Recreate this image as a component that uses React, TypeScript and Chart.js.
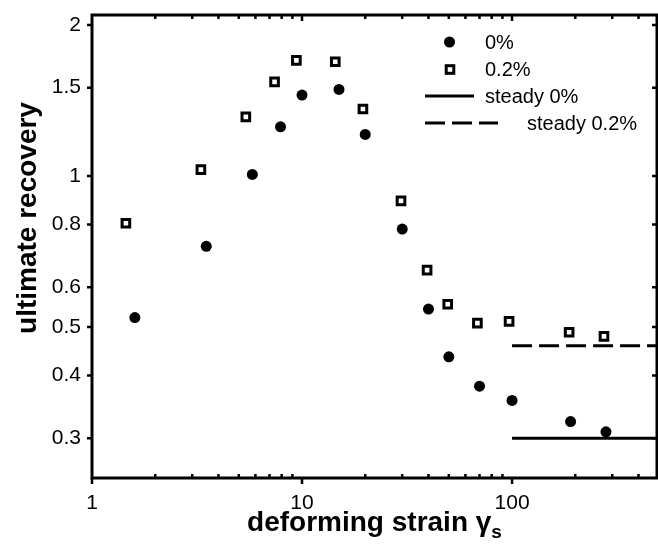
import React, { useEffect, useRef } from 'react';
import { Chart, registerables } from 'chart.js';

Chart.register(...registerables);

// ---- data ----
const strain0 = [1.6, 3.5, 5.8, 7.9, 10, 15, 20, 30, 40, 50, 70, 100, 190, 280];
const recovery0 = [0.522, 0.724, 1.007, 1.253, 1.45, 1.488, 1.21, 0.784, 0.543, 0.436, 0.381, 0.357, 0.324, 0.309];
const strain02 = [1.45, 3.3, 5.4, 7.4, 9.4, 14.4, 19.5, 29.6, 39.4, 49.4, 68.4, 96.8, 187, 274];
const recovery02 = [0.805, 1.03, 1.312, 1.54, 1.7, 1.69, 1.36, 0.892, 0.649, 0.555, 0.509, 0.513, 0.488, 0.479];
const steadyStrain = [100, 490];
const steady0 = [0.3, 0.3];
const steady02 = [0.459, 0.459];

const xMajorTicks = [1, 10, 100];
const xMinorTicks = [2, 3, 4, 5, 6, 7, 8, 9, 20, 30, 40, 50, 60, 70, 80, 90, 200, 300, 400];
const yTicks = [0.3, 0.4, 0.5, 0.6, 0.8, 1, 1.5, 2];
const legendLabels = ['0%', '0.2%', 'steady 0%', 'steady 0.2%'];
const xTitle = 'deforming strain \u03b3';
const xTitleSub = 's';
const yTitle = 'ultimate recovery';

const FONT = '"Liberation Sans", Arial, Helvetica, sans-serif';

const framePlugin = {
  id: 'frameAndExtras',
  afterDraw(chart: any) {
    const ctx = chart.ctx as CanvasRenderingContext2D;
    const { left, right, top, bottom } = chart.chartArea;
    const xs = chart.scales.x;
    const ys = chart.scales.y;
    ctx.save();
    ctx.strokeStyle = '#000';
    ctx.fillStyle = '#000';
    ctx.lineWidth = 3;
    ctx.lineCap = 'butt';
    ctx.beginPath();
    ctx.moveTo(left, top);
    ctx.lineTo(right, top);
    ctx.lineTo(right, bottom);
    ctx.lineTo(left, bottom);
    ctx.closePath();
    ctx.stroke();

    ctx.lineWidth = 2.5;
    ctx.beginPath();
    yTicks.forEach((v) => {
      const py = ys.getPixelForValue(v);
      ctx.moveTo(left - 5, py);
      ctx.lineTo(left, py);
      ctx.moveTo(right - 5, py);
      ctx.lineTo(right, py);
    });
    xMajorTicks.forEach((v) => {
      const px = xs.getPixelForValue(v);
      ctx.moveTo(px, bottom);
      ctx.lineTo(px, bottom + 6);
      if (v > 1) {
        ctx.moveTo(px, top);
        ctx.lineTo(px, top + 6);
      }
    });
    xMinorTicks.forEach((v) => {
      const px = xs.getPixelForValue(v);
      ctx.moveTo(px, bottom);
      ctx.lineTo(px, bottom - 4);
      ctx.moveTo(px, top);
      ctx.lineTo(px, top + 4);
    });
    ctx.stroke();

    // axis titles
    ctx.font = 'bold 28px ' + FONT;
    ctx.textBaseline = 'alphabetic';
    const mainW = ctx.measureText(xTitle).width;
    ctx.font = 'bold 19px ' + FONT;
    const subW = ctx.measureText(xTitleSub).width;
    const cx = (left + right) / 2;
    const startX = cx - (mainW + subW) / 2;
    ctx.font = 'bold 28px ' + FONT;
    ctx.textAlign = 'left';
    ctx.fillText(xTitle, startX, 531);
    ctx.font = 'bold 19px ' + FONT;
    ctx.fillText(xTitleSub, startX + mainW, 538);

    ctx.save();
    ctx.translate(36, 218);
    ctx.rotate(-Math.PI / 2);
    ctx.font = 'bold 28px ' + FONT;
    ctx.textAlign = 'center';
    ctx.fillText(yTitle, 0, 0);
    ctx.restore();

    // legend
    ctx.font = '20px ' + FONT;
    ctx.textAlign = 'left';
    ctx.textBaseline = 'middle';
    ctx.beginPath();
    ctx.arc(449.5, 42, 5.5, 0, Math.PI * 2);
    ctx.fill();
    ctx.fillText(legendLabels[0], 485, 43);
    ctx.lineWidth = 3;
    ctx.strokeRect(446.2, 65.7, 7.6, 7.6);
    ctx.fillText(legendLabels[1], 485, 70);
    ctx.beginPath();
    ctx.moveTo(425, 96);
    ctx.lineTo(474, 96);
    ctx.stroke();
    ctx.fillText(legendLabels[2], 485, 97);
    ctx.setLineDash([20, 7]);
    ctx.beginPath();
    ctx.moveTo(425, 123);
    ctx.lineTo(498, 123);
    ctx.stroke();
    ctx.setLineDash([]);
    ctx.fillText(legendLabels[3], 527, 124);
    ctx.restore();
  },
};

export default function App() {
  const ref = useRef<HTMLCanvasElement | null>(null);
  useEffect(() => {
    if (!ref.current) return;
    const chart = new Chart(ref.current, {
      type: 'scatter',
      data: {
        datasets: [
          {
            label: legendLabels[0],
            data: strain0.map((x, i) => ({ x, y: recovery0[i] })),
            pointStyle: 'circle',
            pointRadius: 5.5,
            pointBackgroundColor: '#000',
            pointBorderWidth: 0,
            showLine: false,
          },
          {
            label: legendLabels[1],
            data: strain02.map((x, i) => ({ x, y: recovery02[i] })),
            pointStyle: 'rect',
            pointRadius: 5.4,
            pointBackgroundColor: '#fff',
            pointBorderColor: '#000',
            pointBorderWidth: 3,
            showLine: false,
          },
          {
            label: legendLabels[2],
            data: steadyStrain.map((x, i) => ({ x, y: steady0[i] })),
            showLine: true,
            borderColor: '#000',
            borderWidth: 3,
            pointRadius: 0,
          },
          {
            label: legendLabels[3],
            data: steadyStrain.map((x, i) => ({ x, y: steady02[i] })),
            showLine: true,
            borderColor: '#000',
            borderWidth: 3,
            borderDash: [20, 7],
            pointRadius: 0,
          },
        ],
      },
      options: {
        animation: false,
        responsive: false,
        devicePixelRatio: 1,
        layout: { autoPadding: false, padding: { left: 0, top: 15, right: 1, bottom: 0 } },
        plugins: { legend: { display: false }, tooltip: { enabled: false } },
        scales: {
          x: {
            type: 'logarithmic',
            min: 1,
            max: 490,
            grid: { display: false, drawTicks: false, tickLength: 0 },
            border: { display: false },
            afterBuildTicks: (s: any) => {
              s.ticks = xMajorTicks.map((v) => ({ value: v }));
            },
            afterFit: (s: any) => {
              s.height = 545 - 478;
              s.paddingLeft = 0;
              s.paddingRight = 0;
            },
            ticks: {
              autoSkip: false,
              maxRotation: 0,
              padding: 13,
              color: '#000',
              font: { family: FONT, size: 21 },
              callback: (v: any) => String(v),
            },
          },
          y: {
            type: 'logarithmic',
            min: 0.25,
            max: 2.094,
            grid: { display: false, drawTicks: false, tickLength: 0 },
            border: { display: false },
            afterBuildTicks: (s: any) => {
              s.ticks = yTicks.map((v) => ({ value: v }));
            },
            afterFit: (s: any) => {
              s.width = 92;
              s.paddingTop = 0;
              s.paddingBottom = 0;
            },
            ticks: {
              autoSkip: false,
              padding: 11,
              color: '#000',
              font: { family: FONT, size: 21 },
              callback: (v: any) => String(v),
            },
          },
        },
      },
      plugins: [framePlugin],
    } as any);
    return () => chart.destroy();
  }, []);
  return (
    <div style={{ position: 'fixed', left: 0, top: 0, width: 658, height: 545, background: '#fff' }}>
      <canvas ref={ref} width={658} height={545} style={{ display: 'block' }} />
    </div>
  );
}
